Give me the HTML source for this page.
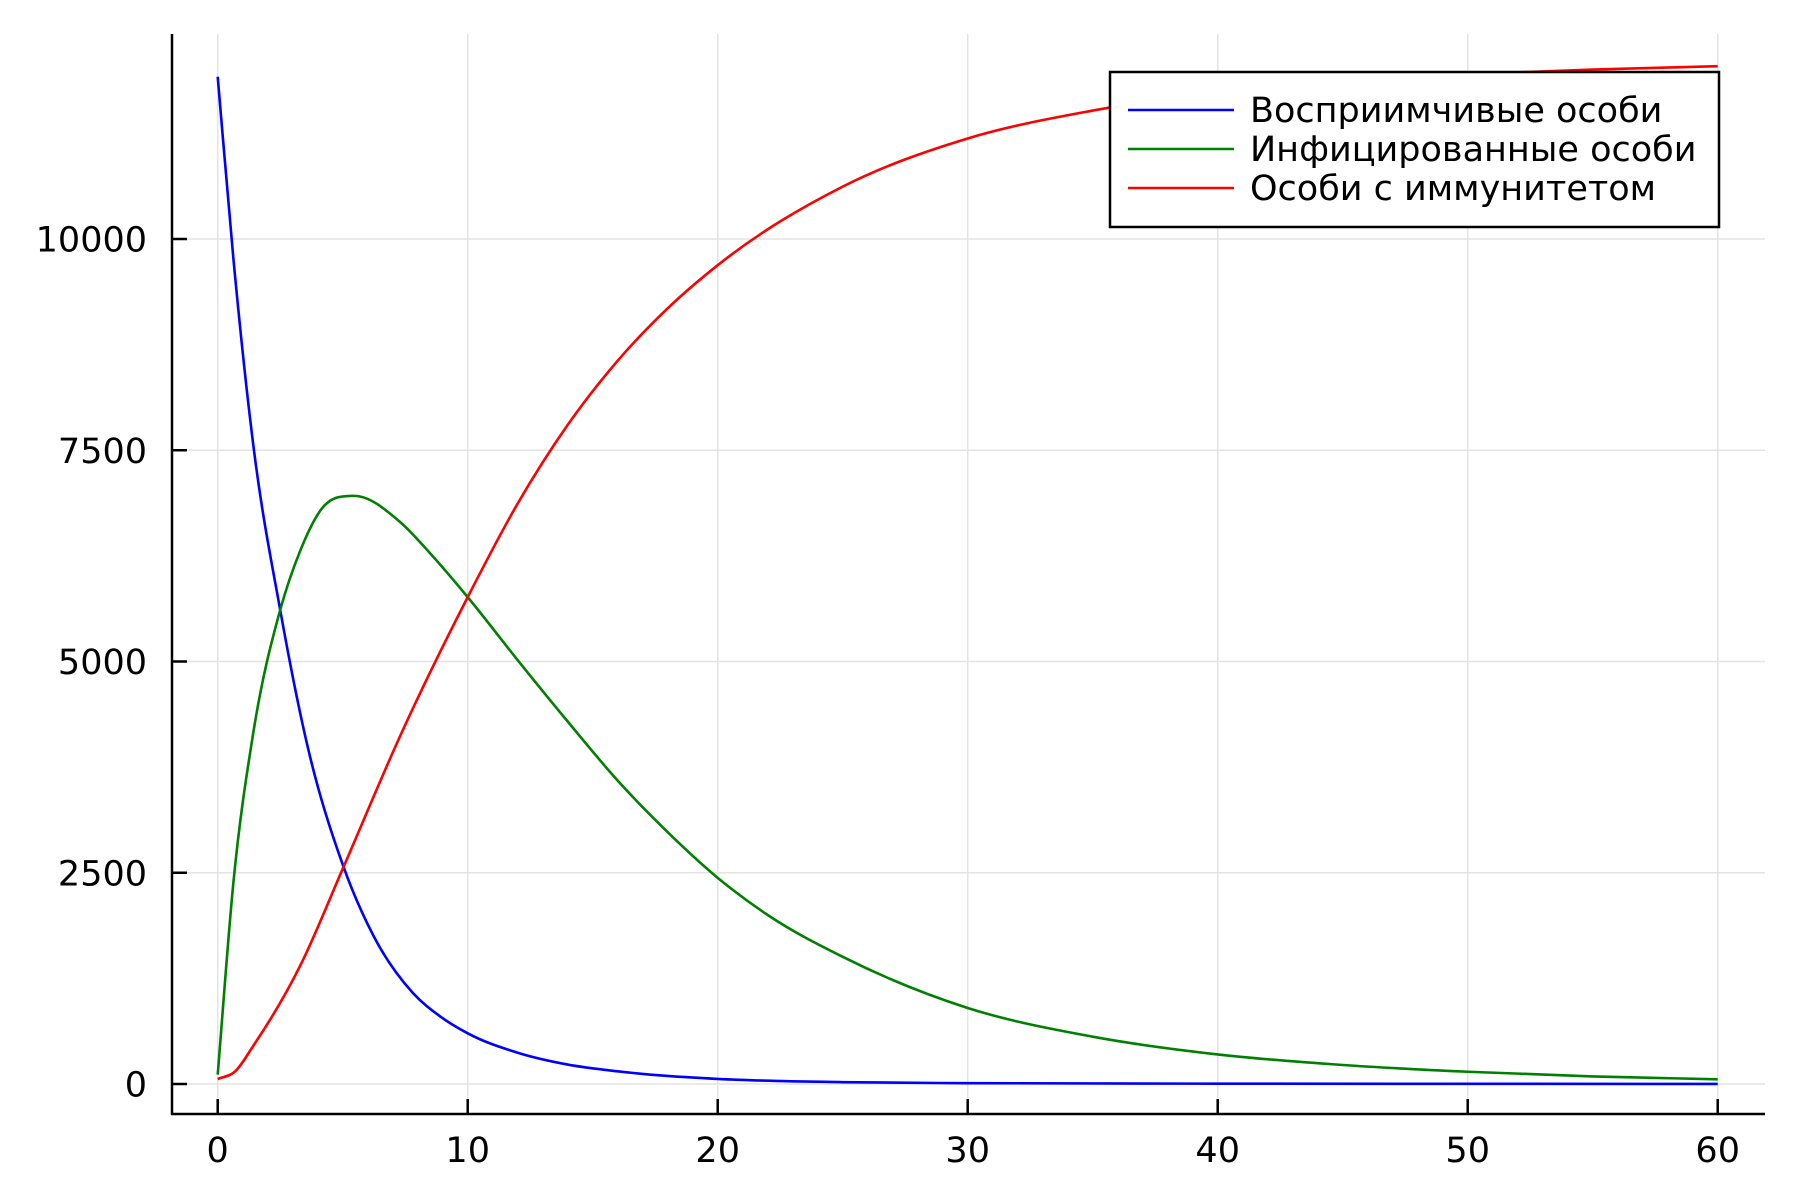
<!DOCTYPE html>
<html><head><meta charset="utf-8"><style>
html,body{margin:0;padding:0;background:#fff;}
svg{display:block;font-family:"DejaVu Sans","Liberation Sans",sans-serif;}
</style></head><body>
<svg id="chart" width="1800" height="1200" viewBox="0 0 1800 1200" xmlns="http://www.w3.org/2000/svg">
<rect width="1800" height="1200" fill="#fff"/>
<g id="grid"></g>
<g id="series"></g>
<g id="axes"></g>
<g id="legend"></g>
</svg>
<script>
const sTimes = [0,0.63,1.42,2.5,3.56,5.02,6.22,7.8,8.9,10,12,14,16,18,20,25,30,40,50,60];
const susceptible = [11920,9760,7570,5610,4040,2580,1760,1080,800,600,370,230,150,95,60,22,10,4,2,1];
const iTimes = [0,0.63,1.42,2.5,3.3,4.09,5.42,7.3,8.5,10,12,14,16,18,20,22,25,30,35,40,45,50,55,60];
const infected = [111,2390,4150,5610,6310,6780,6960,6650,6280,5762,5016,4290,3590,2980,2440,2000,1505,900,560,350,225,145,90,56];
const rTimes = [0,0.7,1.42,3.3,5.02,7.3,10,12,14,16,18,20,25,30,35,40,45,50,55,60];
const recovered = [59,150,450,1400,2560,4120,5762,6870,7800,8560,9180,9690,10620,11190,11520,11740,11870,11950,12005,12045];
const xTicks = [0,10,20,30,40,50,60];
const yTicks = [0,2500,5000,7500,10000];
const yTickLabels = ["0","2500","5000","7500","10000"];
const seriesNames = ["Восприимчивые особи","Инфицированные особи","Особи с иммунитетом"];
const seriesColors = ["#0000ff","#008000","#ff0000"];

const NS="http://www.w3.org/2000/svg";
const L=172,R=1765,T=34,B=1114;
function xs(t){return 217.7+t*25.0;}
function ys(v){return 1084-v*0.0845;}
function mk(tag,attrs,parent){const e=document.createElementNS(NS,tag);for(const k in attrs)e.setAttribute(k,attrs[k]);parent.appendChild(e);return e;}
const grid=document.getElementById('grid'),axes=document.getElementById('axes'),ser=document.getElementById('series'),leg=document.getElementById('legend');

xTicks.forEach(t=>{
  const g=mk('line',{x1:xs(t),x2:xs(t),y1:T,y2:B,stroke:'#e3e3e3','stroke-width':1.5},grid);
  
  
  const tk=mk('line',{x1:xs(t),x2:xs(t),y1:B-15,y2:B,stroke:'#000','stroke-width':2.5},axes);
  
  
  const tx=mk('text',{x:xs(t),y:1162,'text-anchor':'middle','font-size':35,fill:'#000'},axes);
  tx.textContent=String(t);
  
  
});
yTicks.forEach((v,i)=>{
  const g=mk('line',{x1:L,x2:R,y1:ys(v),y2:ys(v),stroke:'#e3e3e3','stroke-width':1.5},grid);
  
  
  const tk=mk('line',{x1:L,x2:L+15,y1:ys(v),y2:ys(v),stroke:'#000','stroke-width':2.5},axes);
  
  
  const tx=mk('text',{x:147,y:ys(v)+12.5,'text-anchor':'end','font-size':35,fill:'#000'},axes);
  tx.textContent=yTickLabels[i];
  
  
});
const ax1=mk('line',{x1:L,x2:L,y1:T,y2:B+1,stroke:'#000','stroke-width':2.5},axes);


const ax2=mk('line',{x1:L-1,x2:R,y1:B,y2:B,stroke:'#000','stroke-width':2.5},axes);



function pathFor(ts,vals){
  const n=ts.length,m=new Array(n);
  for(let i=0;i<n;i++){
    if(i===0)m[i]=(vals[1]-vals[0])/(ts[1]-ts[0]);
    else if(i===n-1)m[i]=(vals[n-1]-vals[n-2])/(ts[n-1]-ts[n-2]);
    else{
      const h0=ts[i]-ts[i-1],h1=ts[i+1]-ts[i];
      const d0=(vals[i]-vals[i-1])/h0,d1=(vals[i+1]-vals[i])/h1;
      m[i]=(d0*h1+d1*h0)/(h0+h1);
    }
  }
  let p='M'+xs(ts[0])+','+ys(vals[0]);
  for(let i=0;i<n-1;i++){
    const h=ts[i+1]-ts[i];
    p+=' C'+xs(ts[i]+h/3)+','+ys(vals[i]+m[i]*h/3)+' '+xs(ts[i+1]-h/3)+','+ys(vals[i+1]-m[i+1]*h/3)+' '+xs(ts[i+1])+','+ys(vals[i+1]);
  }
  return p;
}
const sp=mk('path',{d:pathFor(sTimes,susceptible),fill:'none',stroke:seriesColors[0],'stroke-width':2.6},ser);


const ip=mk('path',{d:pathFor(iTimes,infected),fill:'none',stroke:seriesColors[1],'stroke-width':2.6},ser);


const rp=mk('path',{d:pathFor(rTimes,recovered),fill:'none',stroke:seriesColors[2],'stroke-width':2.6},ser);



const box=mk('rect',{x:1110,y:72,width:609,height:155,fill:'#fff',stroke:'#000','stroke-width':2.5},leg);


seriesNames.forEach((n,i)=>{
  const y=110+i*39;
  const ln=mk('line',{x1:1128,x2:1234,y1:y,y2:y,stroke:seriesColors[i],'stroke-width':2.6},leg);
  
  
  const tx=mk('text',{x:1250,y:y+12,'font-size':35,fill:'#000'},leg);
  tx.textContent=n;
  
  
});
</script>
</body></html>
